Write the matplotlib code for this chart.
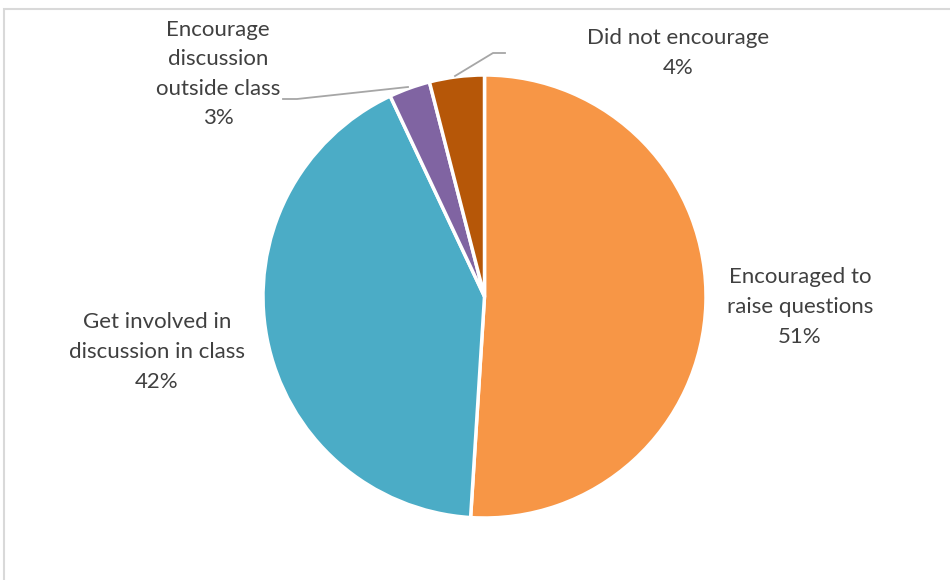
import matplotlib.pyplot as plt
from matplotlib.patches import Rectangle

# Chart data
categories = [
    "Encouraged to\nraise questions",
    "Get involved in\ndiscussion in class",
    "Encourage\ndiscussion\noutside class",
    "Did not encourage",
]
shares = [51, 42, 3, 4]
colors = ["#F79646", "#4BACC6", "#8064A2", "#B65708"]

W, H = 950, 580
fig = plt.figure(figsize=(W / 100, H / 100), dpi=100)
ax = fig.add_axes([0, 0, 1, 1])

# Chart border (light grey frame)
ax.add_patch(Rectangle((3.5, -10), W + 10, H - 8.5 + 10, fill=False,
                       edgecolor="#D9D9D9", linewidth=1.5))

cx, cy, r = 484.5, H - 296.5, 221.5
wedges, _ = ax.pie(shares, colors=colors, startangle=90, counterclock=False,
                   center=(cx, cy), radius=r, frame=True,
                   wedgeprops=dict(edgecolor="white", linewidth=2.5))
ax.set_xlim(0, W)
ax.set_ylim(0, H)
ax.axis("off")

# Label positions (pixel centres, y from top)
label_pos = [(800, 307), (157, 352), (218, 74), (678, 53)]
for cat, val, (lx, ly) in zip(categories, shares, label_pos):
    ax.text(lx, H - ly, f"{cat}\n{val}%", ha="center", va="center",
            fontsize=16, color="#404040", family="Lato", linespacing=1.6)

# Leader lines
ax.plot([408, 297, 283], [H - 87, H - 99, H - 99], color="#A6A6A6", lw=1.3)
ax.plot([455, 493, 505], [H - 76, H - 53, H - 53], color="#A6A6A6", lw=1.3)

fig.savefig("out.png", dpi=100)
